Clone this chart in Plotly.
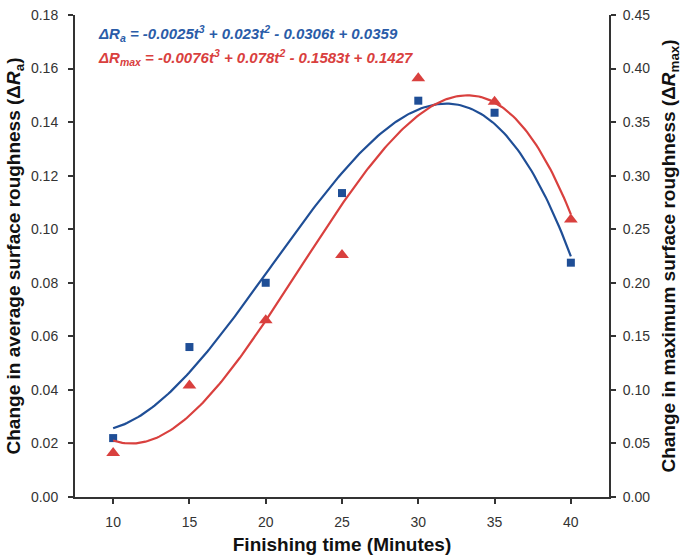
import numpy as np
import plotly.graph_objects as go

time_min = [10, 15, 20, 25, 30, 35, 40]
delta_ra = [0.022, 0.056, 0.080, 0.1135, 0.148, 0.1435, 0.0875]
delta_rmax = [0.041, 0.104, 0.165, 0.226, 0.391, 0.369, 0.259]

x_ticks = [10, 15, 20, 25, 30, 35, 40]
y_left_ticks = [0.00, 0.02, 0.04, 0.06, 0.08, 0.10, 0.12, 0.14, 0.16, 0.18]
y_right_ticks = [0.00, 0.05, 0.10, 0.15, 0.20, 0.25, 0.30, 0.35, 0.40, 0.45]

BLUE = "#1F4E96"
RED = "#D9403E"

# 3rd order polynomial trendlines (fitted against index t = 1..7)
t_idx = np.arange(1, len(time_min) + 1)
p_ra = np.polyfit(t_idx, delta_ra, 3)
p_rmax = np.polyfit(t_idx, delta_rmax, 3)
t_fine = np.linspace(1, len(time_min), 200)
x_fine = np.interp(t_fine, t_idx, time_min)

fig = go.Figure()
fig.add_trace(go.Scatter(x=x_fine, y=np.polyval(p_ra, t_fine), mode="lines",
                         line=dict(color=BLUE, width=2.2), showlegend=False))
fig.add_trace(go.Scatter(x=x_fine, y=np.polyval(p_rmax, t_fine), mode="lines",
                         line=dict(color=RED, width=2.2), showlegend=False, yaxis="y2"))
fig.add_trace(go.Scatter(x=time_min, y=delta_ra, mode="markers",
                         marker=dict(symbol="square", size=8, color=BLUE), showlegend=False))
fig.add_trace(go.Scatter(x=time_min, y=delta_rmax, mode="markers",
                         marker=dict(symbol="triangle-up", size=12, color=RED), showlegend=False,
                         yaxis="y2"))

font_ticks = dict(family="Liberation Sans, Arial", size=14, color="#333333")
title_font = dict(family="Liberation Sans, Arial", size=19, color="#111111")
axis_common = dict(showgrid=False, zeroline=False, showline=True, linecolor="#333333",
                   linewidth=2, ticks="outside", ticklen=5, tickwidth=2, tickcolor="#333333",
                   tickfont=font_ticks, automargin=False)

fig.update_layout(
    width=682, height=560,
    margin=dict(l=75, r=73, t=15, b=63),
    plot_bgcolor="white", paper_bgcolor="white",
    xaxis=dict(range=[7.5, 42.5], tickvals=x_ticks, ticktext=[str(v) for v in x_ticks],
               ticklabelstandoff=6,
               title=dict(text="<b>Finishing time (Minutes)</b>", font=title_font, standoff=9),
               **axis_common),
    yaxis=dict(range=[0, 0.18], tickvals=y_left_ticks,
               ticktext=[f"{v:.2f}" for v in y_left_ticks], ticklabelstandoff=7,
               title=dict(text="<b>Change in average surface roughness (Δ<i>R</i><sub>a</sub>)</b>",
                          font=title_font, standoff=5),
               **axis_common),
    yaxis2=dict(range=[0, 0.45], tickvals=y_right_ticks,
                ticktext=[f"{v:.2f}" for v in y_right_ticks], ticklabelstandoff=4,
                overlaying="y", side="right",
                title=dict(text="<b>Change in maximum surface roughness (Δ<i>R</i><sub>max</sub>)</b>",
                           font=title_font, standoff=12),
                **axis_common),
)

eq_font = dict(family="Liberation Sans, Arial", size=15)
fig.add_annotation(xref="paper", yref="paper", x=0.04, y=0.962, xanchor="left", yanchor="middle",
                   showarrow=False,
                   text="<b><i>ΔR<sub>a</sub> = -0.0025t<sup>3</sup> + 0.023t<sup>2</sup> - 0.0306t + 0.0359</i></b>",
                   font=dict(color="#2A5CA8", **eq_font))
fig.add_annotation(xref="paper", yref="paper", x=0.04, y=0.912, xanchor="left", yanchor="middle",
                   showarrow=False,
                   text="<b><i>ΔR<sub>max</sub> = -0.0076t<sup>3</sup> + 0.078t<sup>2</sup> - 0.1583t + 0.1427</i></b>",
                   font=dict(color="#D9403E", **eq_font))

fig.write_html("out.html", config={"displayModeBar": False},
               post_script="document.body.style.margin='0';")
